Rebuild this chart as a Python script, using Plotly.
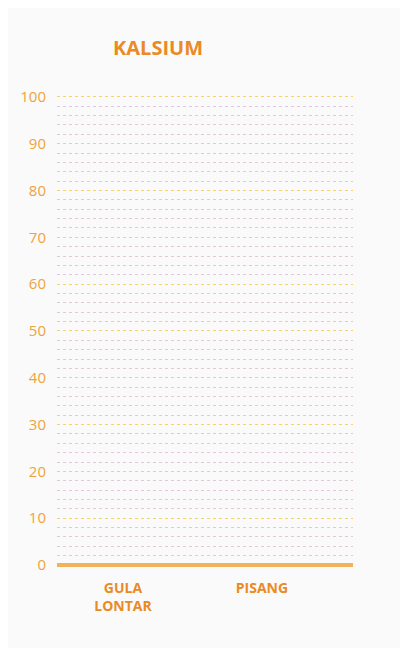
import plotly.graph_objects as go

categories = ["GULA<br>LONTAR", "PISANG"]
category_labels = ["<b>GULA<br>LONTAR</b>", "<b>PISANG</b>"]
kalsium = [0, 0]
y_ticks = [0, 10, 20, 30, 40, 50, 60, 70, 80, 90, 100]

ORANGE = "#EA8A25"
TICK_ORANGE = "#EFA33C"
BG = "#FAFAFA"

fig = go.Figure()
fig.add_trace(go.Bar(
    x=categories, y=kalsium,
    marker=dict(color="#F2A93B", line=dict(width=0)), width=0.5,
))

fig.update_layout(
    width=400, height=640,
    margin=dict(l=49, r=55, t=87, b=83),
    paper_bgcolor=BG, plot_bgcolor=BG,
    showlegend=False,
    font=dict(family="Open Sans", color=TICK_ORANGE),
    title=dict(
        text="<b>KALSIUM</b>", font=dict(size=20, color=ORANGE, family="Open Sans"),
        xref="container", yref="container",
        x=150 / 400, xanchor="center", y=1 - 40 / 640, yanchor="middle",
    ),
)
fig.update_xaxes(
    range=[-0.475, 1.655], showgrid=False, showline=False, zeroline=False,
    tickfont=dict(size=14, color=ORANGE, family="Open Sans"),
    ticklabelstandoff=13, ticks="",
    tickvals=categories, ticktext=category_labels,
)
fig.update_yaxes(
    range=[0, 100.4], tickvals=y_ticks, showline=False,
    showgrid=True, gridcolor="#F6D26A", gridwidth=1, griddash="dot",
    minor=dict(dtick=2, showgrid=True, gridcolor="#E2C6DA", gridwidth=1, griddash="dot"),
    zeroline=True, zerolinecolor="#F2B25A", zerolinewidth=4,
    tickfont=dict(size=15, color=TICK_ORANGE, family="Open Sans"),
    ticklabelstandoff=10, ticks="",
)

fig.write_html("out.html")
